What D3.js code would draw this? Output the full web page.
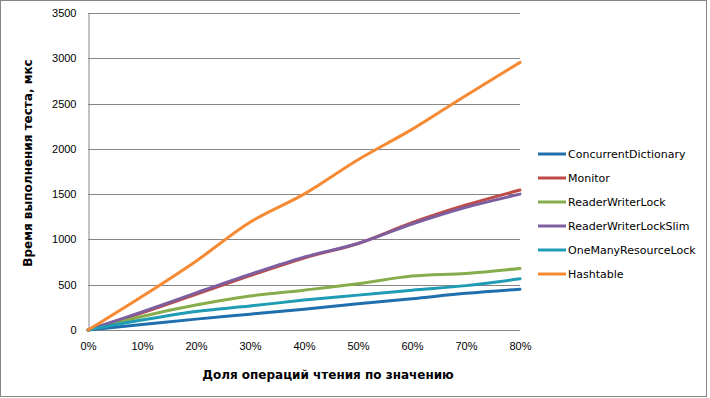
<!DOCTYPE html>
<html>
<head>
<meta charset="utf-8">
<script src="https://cdn.jsdelivr.net/npm/d3@7"></script>
<style>
  body { margin: 0; background: #fff; }
  svg { font-family: "DejaVu Sans", Verdana, sans-serif; }
</style>
</head>
<body>
<div id="chart"></div>
<script>
const xLabels = ["0%", "10%", "20%", "30%", "40%", "50%", "60%", "70%", "80%"];
const yTicks = [0, 500, 1000, 1500, 2000, 2500, 3000, 3500];

const seriesNames = ["ConcurrentDictionary", "Monitor", "ReaderWriterLock", "ReaderWriterLockSlim", "OneManyResourceLock", "Hashtable"];
const seriesColors = ["#1f6fae", "#be4b48", "#86ad4c", "#7d5fa0", "#1f9bb3", "#f68a33"];

const concurrentDictionary = [0, 60, 120, 175, 230, 290, 345, 405, 450];
const monitor = [0, 190, 395, 600, 795, 955, 1185, 1380, 1545];
const readerWriterLock = [0, 150, 275, 375, 440, 510, 595, 625, 680];
const readerWriterLockSlim = [0, 200, 410, 615, 805, 955, 1170, 1355, 1500];
const oneManyResourceLock = [0, 110, 205, 265, 330, 385, 440, 490, 565];
const hashtable = [0, 370, 760, 1190, 1500, 1880, 2215, 2590, 2955];

const seriesValues = [concurrentDictionary, monitor, readerWriterLock, readerWriterLockSlim, oneManyResourceLock, hashtable];

const w = 710;
const h = 398;
const margin = { top: 13, right: 190, bottom: 68, left: 88 };

const svg = d3.select("#chart")
    .append("svg")
    .attr("width", w)
    .attr("height", h);

// outer frame
svg.append("rect")
    .attr("x", 0.5)
    .attr("y", 0.5)
    .attr("width", w - 4)
    .attr("height", h - 2)
    .attr("fill", "#fff")
    .attr("stroke", "#868686");

const x = d3.scalePoint()
    .domain(xLabels)
    .range([margin.left, w - margin.right]);

const y = d3.scaleLinear()
    .domain([0, 3500])
    .range([h - margin.bottom, margin.top]);

// gridlines
svg.append("g")
    .selectAll("line")
    .data(yTicks)
    .enter()
    .append("line")
    .attr("x1", margin.left)
    .attr("x2", w - margin.right)
    .attr("y1", d => Math.round(y(d)) + 0.5)
    .attr("y2", d => Math.round(y(d)) + 0.5)
    .attr("stroke", "#868686")
    .attr("stroke-width", 1);

// y axis
const yAxis = svg.append("g")
    .attr("transform", `translate(${margin.left + 0.5},0)`)
    .call(d3.axisLeft(y).tickValues(yTicks).tickSize(0).tickPadding(12).tickFormat(d3.format("d")));
yAxis.select(".domain").attr("stroke", "#868686");
yAxis.selectAll("text").style("font-size", "11px").attr("fill", "#000");

// x axis
const xAxis = svg.append("g")
    .attr("transform", `translate(0,${Math.round(y(0)) + 0.5})`)
    .call(d3.axisBottom(x).tickSize(0).tickPadding(12));
xAxis.select(".domain").remove();
xAxis.selectAll("text").style("font-size", "11px").attr("fill", "#000");

// lines
const line = d3.line()
    .x((d, i) => x(xLabels[i]))
    .y(d => y(d))
    .curve(d3.curveCatmullRom.alpha(0.5));

svg.append("g")
    .selectAll("path")
    .data(seriesValues)
    .enter()
    .append("path")
    .attr("d", d => line(d))
    .attr("fill", "none")
    .attr("stroke", (d, i) => seriesColors[i])
    .attr("stroke-width", 3)
    .attr("stroke-linejoin", "round")
    .attr("stroke-linecap", "round");

// axis titles
svg.append("text")
    .attr("x", 328)
    .attr("y", 379)
    .attr("text-anchor", "middle")
    .style("font-size", "12px")
    .style("font-weight", "bold")
    .text("Доля операций чтения по значению");

svg.append("text")
    .attr("transform", "translate(32,163) rotate(-90)")
    .attr("text-anchor", "middle")
    .style("font-size", "12px")
    .style("font-weight", "bold")
    .text("Время выполнения теста, мкс");

// legend
const legend = svg.append("g")
    .attr("transform", "translate(538,154)");

const legendItem = legend.selectAll("g")
    .data(seriesNames)
    .enter()
    .append("g")
    .attr("transform", (d, i) => `translate(0,${i * 24})`);

legendItem.append("line")
    .attr("x1", 0)
    .attr("x2", 28)
    .attr("stroke", (d, i) => seriesColors[i])
    .attr("stroke-width", 3);

legendItem.append("text")
    .attr("x", 30)
    .attr("y", 4)
    .style("font-size", "11px")
    .text(d => d);
</script>
</body>
</html>
